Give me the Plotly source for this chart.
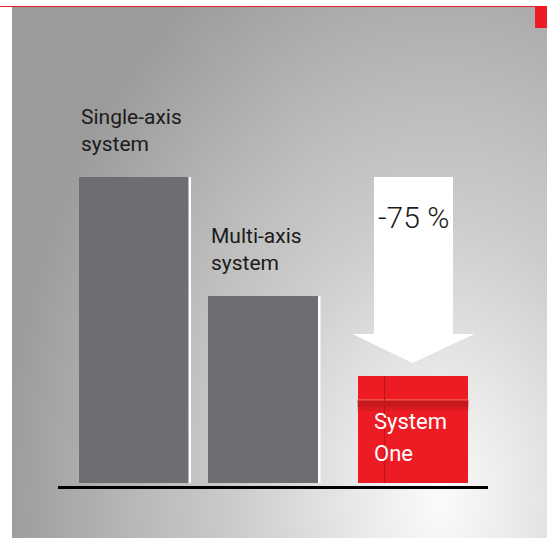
import base64
import plotly.graph_objects as go

# ---- data ----
categories = ["Single-axis system", "Multi-axis system", "System One"]
values = [100, 61, 35]
label_lines = [["Single-axis", "system"], ["Multi-axis", "system"], ["System", "One"]]
reduction_text = "-75 %"

GRAY = "#6d6e71"
RED = "#ed1c24"
W, H = 547, 538

# pixel scale helpers (layout only)
PX_X = 139.5      # pixels per category step
PX_Y = 3.06       # pixels per value unit
Y0_PIX = 483      # pixel row of value 0
X0_PIX = 133.5    # pixel column of category 0
def dx(p):
    return p / PX_X
def dy(p):
    return p / PX_Y

bar_w = dx(110)
offsets = [-bar_w / 2, -bar_w / 2 - dx(10), -bar_w / 2]
colors = [GRAY, GRAY, RED]

# ---- background (gradient) as svg image ----
svg = f'''<svg xmlns="http://www.w3.org/2000/svg" width="{W}" height="{H}" viewBox="0 0 {W} {H}">
<defs>
<radialGradient id="g" gradientUnits="userSpaceOnUse" cx="440" cy="500" r="440"
 gradientTransform="translate(440 500) scale(1 1.4) translate(-440 -500)">
<stop offset="0" stop-color="#fbfbfb"/>
<stop offset="0.2" stop-color="#e8e8e8"/>
<stop offset="0.45" stop-color="#cdcdcd"/>
<stop offset="0.65" stop-color="#bcbcbc"/>
<stop offset="0.85" stop-color="#a9a9a9"/>
<stop offset="1" stop-color="#9b9b9b"/>
</radialGradient>
<linearGradient id="b" x1="0" y1="0" x2="0" y2="1">
<stop offset="0" stop-color="#a0141a" stop-opacity="0.75"/>
<stop offset="1" stop-color="#a0141a" stop-opacity="0"/>
</linearGradient>
</defs>
<rect x="0" y="0" width="{W}" height="{H}" fill="#ffffff"/>
<rect x="0" y="6" width="{W}" height="1" fill="{RED}"/>
<rect x="12" y="7" width="{W-12}" height="{H-7}" fill="url(#g)"/>
<rect x="535" y="7" width="12" height="21" fill="{RED}"/>
</svg>'''
svg_uri = "data:image/svg+xml;base64," + base64.b64encode(svg.encode()).decode()

fig = go.Figure()
fig.add_trace(go.Bar(
    x=categories, y=values, width=[bar_w] * 3, offset=offsets,
    marker=dict(color=colors, line=dict(width=0)),
    hoverinfo="skip", showlegend=False,
))

shapes = []
annotations = []
for i, v in enumerate(values):
    left = i + offsets[i]
    right = left + bar_w
    if i < 2:
        # white edge on the right side of the gray bars
        shapes.append(dict(type="rect", xref="x", yref="y", x0=right, x1=right + dx(2.5),
                           y0=0, y1=v, fillcolor="white", line=dict(width=0), layer="above"))
        annotations.append(dict(
            xref="x", yref="y", x=left + dx(0.5), y=v, xanchor="left", yanchor="middle",
            yshift=47, showarrow=False, align="left",
            text="<br>".join(label_lines[i]),
            font=dict(family="Roboto", size=21, color="#1b1b1b")))
    else:
        # darker fold band and lines on the red box
        shapes.append(dict(type="rect", xref="x", yref="y", x0=left, x1=right + dx(1),
                           y0=v - dy(31), y1=v - dy(24), fillcolor="#a8141b",
                           line=dict(width=0), layer="above", opacity=0.55))
        shapes.append(dict(type="rect", xref="x", yref="y", x0=left, x1=right + dx(1),
                           y0=v - dy(35), y1=v - dy(31), fillcolor="#a8141b",
                           line=dict(width=0), layer="above", opacity=0.25))
        shapes.append(dict(type="line", xref="x", yref="y", x0=left, x1=right + dx(1),
                           y0=v - dy(24), y1=v - dy(24), line=dict(color="#f4764f", width=1),
                           layer="above"))
        shapes.append(dict(type="line", xref="x", yref="y", x0=left + dx(27), x1=left + dx(27),
                           y0=0, y1=v, line=dict(color="#c0141b", width=1.2), layer="above"))
        for j, line in enumerate(label_lines[i]):
            annotations.append(dict(
                xref="x", yref="y", x=left + dx(14), y=v, xanchor="left", yanchor="middle",
                yshift=-46 - 32 * j, showarrow=False, align="left", text=line,
                font=dict(family="Roboto", size=22, color="white")))

# baseline
shapes.append(dict(type="line", xref="x", yref="y", x0=-dx(75.5), x1=2 + dx(75.5),
                   y0=-dy(4.5), y1=-dy(4.5), line=dict(color="black", width=3)))

# reduction arrow (from top of first bar down to the System One box)
c = 2
top = values[0]
base = values[2] + dy(376 - 334)
tip = values[2] + dy(376 - 363)
path = (f"M {c - dx(38.5)},{top} L {c + dx(40.5)},{top} L {c + dx(40.5)},{base} "
        f"L {c + dx(62)},{base} L {c},{tip} L {c - dx(60)},{base} L {c - dx(38.5)},{base} Z")
shapes.append(dict(type="path", xref="x", yref="y", path=path, fillcolor="white",
                   line=dict(width=0)))
annotations.append(dict(xref="x", yref="y", x=c + dx(0.5), y=top, yshift=-40,
                        xanchor="center", yanchor="middle", showarrow=False,
                        text=reduction_text,
                        font=dict(family="Roboto", size=30, color="#1b1b1b", weight=300)))

fig.update_layout(
    width=W, height=H, margin=dict(l=0, r=0, t=0, b=0),
    paper_bgcolor="white", plot_bgcolor="rgba(0,0,0,0)",
    xaxis=dict(type="category", range=[-X0_PIX / PX_X, (W - X0_PIX) / PX_X],
               visible=False, fixedrange=True),
    yaxis=dict(range=[-(H - Y0_PIX) / PX_Y, Y0_PIX / PX_Y], visible=False, fixedrange=True),
    shapes=shapes, annotations=annotations,
    images=[dict(source=svg_uri, xref="paper", yref="paper", x=0, y=1, sizex=1, sizey=1,
                 xanchor="left", yanchor="top", sizing="stretch", layer="below")],
    bargap=0,
)

fig.write_html("out.html", config=dict(displayModeBar=False),
               post_script="document.body.style.margin='0px';document.body.style.padding='0px';")
